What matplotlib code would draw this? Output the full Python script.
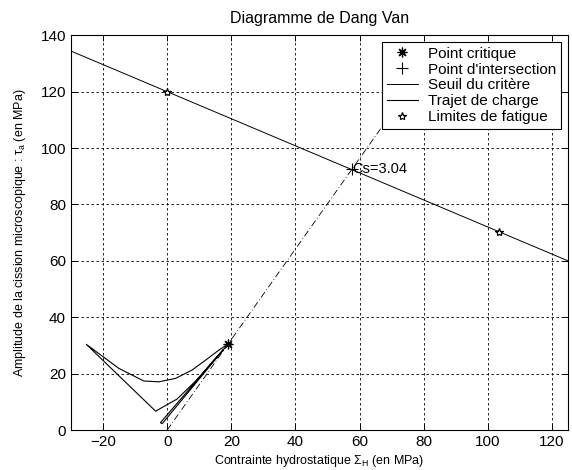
import numpy as np
import matplotlib
matplotlib.use('Agg')
import matplotlib.pyplot as plt
from matplotlib.ticker import MultipleLocator

plt.rcParams['font.family'] = ['Liberation Sans', 'DejaVu Sans']
plt.rcParams['mathtext.fontset'] = 'custom'
plt.rcParams['mathtext.rm'] = 'Liberation Sans'
plt.rcParams['mathtext.it'] = 'Liberation Sans'

# Seuil du critere (droite de Dang Van)
seuil_x = [-30.0, 125.0]
seuil_y = [134.4, 60.0]

# Limites de fatigue
fatigue_x = [0.0, 103.5]
fatigue_y = [120.0, 70.3]

# Point critique et point d'intersection
crit_x, crit_y = 19.0, 30.5
inter_x, inter_y = 57.6, 92.4
cs_label = 'Cs=3.04'

# Droite de charge (origine -> point critique, prolongee)
ray_x = [0.0, 80.0]
ray_y = [0.0, 128.4]

# Trajet de charge
trajet_x = [19.0, 16.2, 12.0, 7.8, 2.6, -2.6, -7.3, -15.1, -25.2,
            -3.6, 3.1, 9.0, 15.5, 17.5, -2.1, -1.5, 19.0]
trajet_y = [30.5, 28.4, 24.8, 21.3, 18.3, 17.1, 17.4, 21.9, 30.4,
            6.7, 11.0, 17.5, 26.0, 28.5, 2.6, 2.3, 30.5]

fig = plt.figure(figsize=(5.72, 4.70), dpi=100)
ax = fig.add_axes([0.124, 0.085, 0.869, 0.84])

ax.plot(ray_x, ray_y, color='black', lw=0.6, ls=(0, (8, 3, 1, 3)))
h_seuil, = ax.plot(seuil_x, seuil_y, color='black', lw=0.7)
h_traj, = ax.plot(trajet_x, trajet_y, color='black', lw=0.8)
h_crit, = ax.plot([crit_x], [crit_y], ls='none', marker=(8, 2, 0),
                  ms=7, mec='black', mew=0.9)
h_inter, = ax.plot([inter_x], [inter_y], ls='none', marker='+',
                   ms=8, mec='black', mew=0.8)
h_fat, = ax.plot(fatigue_x, fatigue_y, ls='none', marker='*',
                 ms=6, mfc='white', mec='black', mew=0.9)
ax.text(inter_x, inter_y, cs_label, fontsize=10.5, ha='left', va='center')

ax.set_xlim(-30, 125)
ax.set_ylim(0, 140)
ax.xaxis.set_major_locator(MultipleLocator(20))
ax.yaxis.set_major_locator(MultipleLocator(20))
ax.tick_params(direction='in', top=True, right=True, labelsize=11, length=4, width=0.7)
ax.grid(True, color='black', ls=(0, (3, 3)), lw=0.6)
for s in ax.spines.values():
    s.set_linewidth(0.8)

ax.set_title('Diagramme de Dang Van', fontsize=11.5, pad=9)
ax.set_xlabel(r'Contrainte hydrostatique $\Sigma_{\rm H}$ (en MPa)', fontsize=9, labelpad=3)
ax.set_ylabel(r'Amplitude de la cission microscopique : $\tau_{\rm a}$ (en MPa)', fontsize=9, labelpad=9)

leg = ax.legend([h_crit, h_inter, h_seuil, h_traj, h_fat],
                ['Point critique', "Point d'intersection", 'Seuil du critère',
                 'Trajet de charge', 'Limites de fatigue'],
                loc='upper right', fontsize=11, fancybox=False, framealpha=1,
                edgecolor='black', handlelength=2.0, labelspacing=0.12,
                borderaxespad=0.45, handletextpad=0.7, borderpad=0.3)
leg.get_frame().set_linewidth(0.8)

fig.savefig('out.png', dpi=100)
